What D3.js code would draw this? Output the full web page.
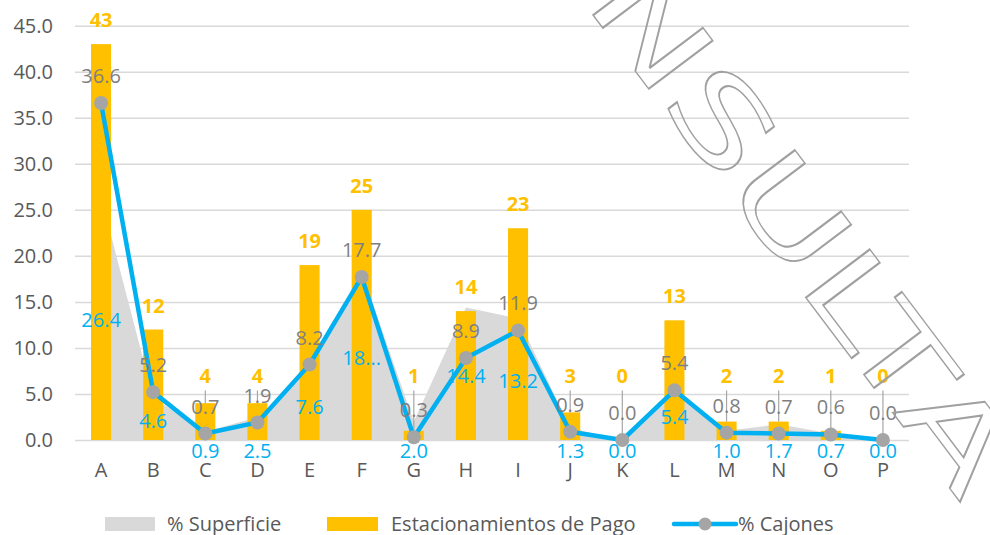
<!DOCTYPE html>
<html>
<head>
<meta charset="utf-8">
<script src="https://cdn.jsdelivr.net/npm/d3@7"></script>
<style>
  html, body { margin: 0; padding: 0; background: #fff; }
  svg { display: block; font-family: "Open Sans", "Noto Sans", sans-serif; }
</style>
</head>
<body>
<svg id="chart" width="990" height="535"></svg>
<script>
// ---- data ----
const categories = ["A","B","C","D","E","F","G","H","I","J","K","L","M","N","O","P"];
const superficie = [26.4, 4.6, 0.9, 2.5, 7.6, 18.3, 2.0, 14.4, 13.2, 1.3, 0.0, 5.4, 1.0, 1.7, 0.7, 0.0];
const estacionamientos = [43, 12, 4, 4, 19, 25, 1, 14, 23, 3, 0, 13, 2, 2, 1, 0];
const cajones = [36.6, 5.2, 0.7, 1.9, 8.2, 17.7, 0.3, 8.9, 11.9, 0.9, 0.0, 5.4, 0.8, 0.7, 0.6, 0.0];
const yTicks = [0, 5, 10, 15, 20, 25, 30, 35, 40, 45];
const clippedSuperficieLabels = ["F"];   // area labels shown cut short
const seriesNames = ["% Superficie", "Estacionamientos de Pago", "% Cajones"];
const watermarkText = "CONSULTA";

// ---- styles ----
const C_AREA = "#d9d9d9", C_BAR = "#ffc000", C_LINE = "#00b0f0", C_MARK = "#a5a5a5";
const C_AXIS_TEXT = "#595959", C_GREY_LABEL = "#7f7f7f", C_GRID = "#d9d9d9";
const FONT = 20;

const svg = d3.select("#chart");
const plot = { left: 75, right: 909, top: 25.7, bottom: 440 };

const xBand = d3.scaleBand().domain(categories).range([plot.left, plot.right]);
const cx = c => xBand(c) + xBand.bandwidth() / 2;
const y = d3.scaleLinear().domain([0, 45]).range([plot.bottom, plot.top]);
const fmt1 = d3.format(".1f");

// gridlines
const grid = svg.append("g").attr("transform", `translate(${plot.left},0)`)
  .call(d3.axisLeft(y).tickValues(yTicks).tickSize(-(plot.right - plot.left)).tickFormat(""));
grid.select(".domain").remove();
grid.selectAll("line").attr("stroke", C_GRID).attr("stroke-width", 1.5);

// y axis labels
const yAxis = svg.append("g").attr("transform", `translate(${plot.left},0)`)
  .call(d3.axisLeft(y).tickValues(yTicks).tickFormat(fmt1).tickSize(0).tickPadding(22));
yAxis.select(".domain").remove();
yAxis.selectAll("text").attr("fill", C_AXIS_TEXT).style("font-size", FONT + "px")
  .style("font-family", '"Open Sans", sans-serif');

// x axis labels
const xAxis = svg.append("g").attr("transform", `translate(0,${plot.bottom})`)
  .call(d3.axisBottom(xBand).tickSize(0).tickPadding(23));
xAxis.select(".domain").remove();
xAxis.selectAll("text").attr("fill", C_AXIS_TEXT).style("font-size", FONT + "px")
  .style("font-family", '"Open Sans", sans-serif');

// % Superficie area
const areaData = categories.map((c, i) => ({ c, v: superficie[i] }));
svg.append("path").datum(areaData)
  .attr("fill", C_AREA)
  .attr("d", d3.area().x(d => cx(d.c)).y0(y(0)).y1(d => y(d.v)));

// Estacionamientos de Pago bars
const barW = xBand.bandwidth() * 0.385;
const barData = categories.map((c, i) => ({ c, v: estacionamientos[i] }));
svg.append("g").selectAll("rect").data(barData).join("rect")
  .attr("x", d => cx(d.c) - barW / 2)
  .attr("y", d => y(d.v))
  .attr("width", barW)
  .attr("height", d => y(0) - y(d.v))
  .attr("fill", C_BAR);

// bar labels: lifted above the small bars, with a leader line down to the bar
const barLabelCeil = y(6.9);
const barLabelY = d => Math.min(y(d.v) - 24, barLabelCeil);
svg.append("g").selectAll("line").data(barData.filter(d => y(d.v) - 24 > barLabelCeil)).join("line")
  .attr("x1", d => cx(d.c)).attr("x2", d => cx(d.c))
  .attr("y1", d => barLabelY(d) + 14).attr("y2", d => y(d.v))
  .attr("stroke", "#a6a6a6").attr("stroke-width", 1.2);

// % Cajones line + markers
const lineData = categories.map((c, i) => ({ c, v: cajones[i] }));
svg.append("path").datum(lineData)
  .attr("fill", "none").attr("stroke", C_LINE).attr("stroke-width", 4.5)
  .attr("stroke-linejoin", "round")
  .attr("d", d3.line().x(d => cx(d.c)).y(d => y(d.v)));
svg.append("g").selectAll("circle").data(lineData).join("circle")
  .attr("cx", d => cx(d.c)).attr("cy", d => y(d.v)).attr("r", 7).attr("fill", C_MARK);

// labels
const labels = svg.append("g").style("font-size", FONT + "px").attr("text-anchor", "middle");

labels.selectAll("text.bar").data(barData).join("text").attr("class", "bar")
  .attr("x", d => cx(d.c)).attr("y", d => barLabelY(d)).attr("dy", "0.35em")
  .attr("fill", C_BAR).attr("font-weight", "bold")
  .text(d => d.v);

labels.selectAll("text.caj").data(lineData).join("text").attr("class", "caj")
  .attr("x", d => cx(d.c)).attr("y", d => y(d.v) - 27).attr("dy", "0.35em")
  .attr("fill", C_GREY_LABEL)
  .text(d => fmt1(d.v));

// area labels sit at half height; thin slivers get theirs just under the axis
labels.selectAll("text.sup").data(areaData).join("text").attr("class", "sup")
  .attr("x", d => cx(d.c))
  .attr("y", d => d.v < 2.6 ? y(0) + 11 : y(d.v / 2) + 2).attr("dy", "0.35em")
  .attr("fill", C_LINE)
  .text(d => clippedSuperficieLabels.includes(d.c) ? fmt1(d.v).slice(0, 2) + "..." : fmt1(d.v));

// legend
const legend = svg.append("g").attr("transform", "translate(0,524)")
  .style("font-size", FONT + "px").attr("fill", C_AXIS_TEXT);
legend.append("rect").attr("x", 105).attr("y", -7).attr("width", 50).attr("height", 14).attr("fill", C_AREA);
legend.append("text").attr("x", 167).attr("dy", "0.35em").text(seriesNames[0]);
legend.append("rect").attr("x", 327).attr("y", -7).attr("width", 51).attr("height", 14).attr("fill", C_BAR);
legend.append("text").attr("x", 391).attr("dy", "0.35em").text(seriesNames[1]);
legend.append("line").attr("x1", 674).attr("x2", 736).attr("stroke", C_LINE).attr("stroke-width", 4.5)
  .attr("stroke-linecap", "round");
legend.append("circle").attr("cx", 705).attr("r", 6.5).attr("fill", C_MARK);
legend.append("text").attr("x", 738).attr("dy", "0.35em").text(seriesNames[2]);

// outlined diagonal watermark, stretched along its baseline
const wmSize = 110, wmAngle = 53;
const wmStart = [593, 15];   // left edge of the "N" on the baseline
const wmInkLength = 610;     // from the "N" to the end of the "A"
const wm = svg.append("g");
const wmText = wm.append("text").text(watermarkText)
  .attr("font-family", '"DejaVu Sans", sans-serif').attr("font-size", wmSize)
  .attr("fill", "none").attr("stroke", "#a0a0a0").attr("stroke-width", 1.8)
  .attr("vector-effect", "non-scaling-stroke");
const node = wmText.node();
const nStart = node.getStartPositionOfChar(2).x + 0.098 * wmSize;
const aEnd = node.getEndPositionOfChar(7).x - 0.008 * wmSize;
const wmStretch = wmInkLength / (aEnd - nStart);
const rad = wmAngle * Math.PI / 180;
const lead = wmStretch * nStart;
wm.attr("transform",
  `translate(${wmStart[0] - lead * Math.cos(rad)},${wmStart[1] - lead * Math.sin(rad)}) rotate(${wmAngle}) scale(${wmStretch},1)`);
</script>
</body>
</html>
